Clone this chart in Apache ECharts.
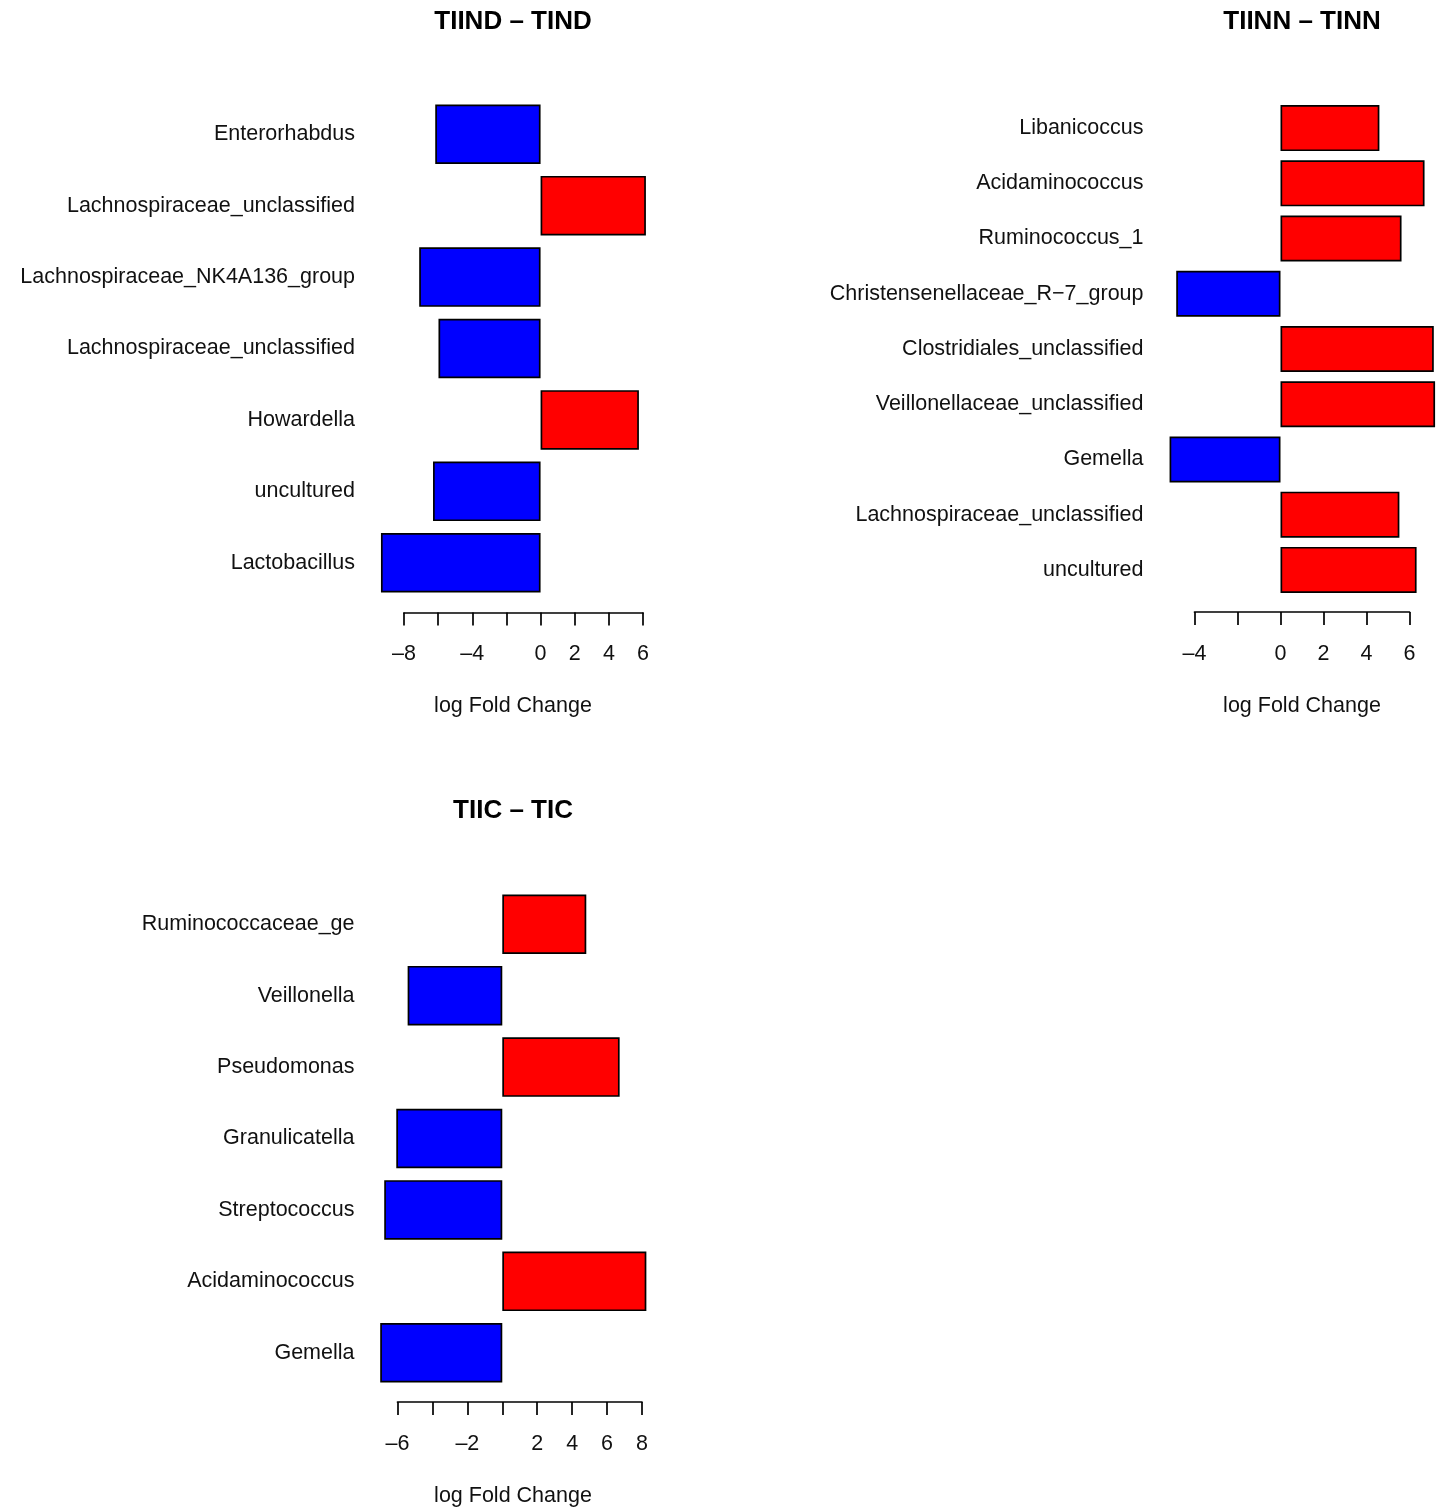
<!DOCTYPE html>
<html>
<head>
<meta charset="utf-8">
<title>log Fold Change</title>
<script src="https://cdn.jsdelivr.net/npm/echarts@6/dist/echarts.min.js"></script>
<style>
  html, body { margin: 0; padding: 0; background: #ffffff; }
  #chart { width: 1445px; height: 1508px; }
</style>
</head>
<body>
<div id="chart"></div>
<script>
// TIIND – TIND
const taxaTIIND = ['Enterorhabdus', 'Lachnospiraceae_unclassified', 'Lachnospiraceae_NK4A136_group',
  'Lachnospiraceae_unclassified', 'Howardella', 'uncultured', 'Lactobacillus'];
const lfcTIIND = [-6.17, 6.17, -7.11, -5.98, 5.76, -6.30, -9.35];
const ticksTIIND = [-8, -6, -4, -2, 0, 2, 4, 6];
const labelledTIIND = [-8, -4, 0, 2, 4, 6];

// TIINN – TINN
const taxaTIINN = ['Libanicoccus', 'Acidaminococcus', 'Ruminococcus_1', 'Christensenellaceae_R\u22127_group',
  'Clostridiales_unclassified', 'Veillonellaceae_unclassified', 'Gemella',
  'Lachnospiraceae_unclassified', 'uncultured'];
const lfcTIINN = [4.60, 6.70, 5.63, -4.85, 7.13, 7.19, -5.16, 5.53, 6.33];
const ticksTIINN = [-4, -2, 0, 2, 4, 6];
const labelledTIINN = [-4, 0, 2, 4, 6];

// TIIC – TIC
const taxaTIIC = ['Ruminococcaceae_ge', 'Veillonella', 'Pseudomonas', 'Granulicatella',
  'Streptococcus', 'Acidaminococcus', 'Gemella'];
const lfcTIIC = [4.81, -5.42, 6.72, -6.07, -6.76, 8.25, -6.99];
const ticksTIIC = [-6, -4, -2, 0, 2, 4, 6, 8];
const labelledTIIC = [-6, -2, 2, 4, 6, 8];

const panelTitles = ['TIIND \u2013 TIND', 'TIINN \u2013 TINN', 'TIIC \u2013 TIC'];
const axisTitle = 'log Fold Change';

const UP = '#ff0000';
const DOWN = '#0000ff';
const FONT = '"Liberation Sans", Arial, Helvetica, sans-serif';
const TEXT_SIZE = 21.5;

const panels = [
  { taxa: taxaTIIND, values: lfcTIIND, ticks: ticksTIIND, labelled: labelledTIIND,
    grid: { left: 404, width: 239, top: 98.5, height: 500 }, offset: 14, nameMargin: 49,
    titleX: 513, titleY: 9, axisTitleY: 695 },
  { taxa: taxaTIINN, values: lfcTIINN, ticks: ticksTIINN, labelled: labelledTIINN,
    grid: { left: 1194.5, width: 215, top: 100.5, height: 497 }, offset: 14.5, nameMargin: 51,
    titleX: 1302, titleY: 9, axisTitleY: 695 },
  { taxa: taxaTIIC, values: lfcTIIC, ticks: ticksTIIC, labelled: labelledTIIC,
    grid: { left: 397.5, width: 244.5, top: 888.5, height: 500 }, offset: 13.5, nameMargin: 43,
    titleX: 513, titleY: 798, axisTitleY: 1485 }
];

const fmtNum = v => (v < 0 ? '\u2013' + Math.abs(v) : String(v));

const option = {
  backgroundColor: '#ffffff',
  animation: false,
  textStyle: { fontFamily: FONT },
  title: [],
  grid: [],
  xAxis: [],
  yAxis: [],
  series: []
};

panels.forEach((p, i) => {
  option.title.push({
    text: panelTitles[i], padding: 0,
    left: p.titleX, top: p.titleY, textAlign: 'center',
    textStyle: { fontFamily: FONT, fontSize: 26, fontWeight: 'bold', color: '#000' }
  });
  option.title.push({
    text: axisTitle, padding: 0,
    left: p.titleX, top: p.axisTitleY, textAlign: 'center',
    textStyle: { fontFamily: FONT, fontSize: TEXT_SIZE, fontWeight: 'normal', color: '#111' }
  });

  option.grid.push(Object.assign({ containLabel: false }, p.grid));

  option.xAxis.push({
    type: 'value', gridIndex: i,
    min: p.ticks[0], max: p.ticks[p.ticks.length - 1], interval: 2,
    offset: p.offset,
    axisLine: { show: true, lineStyle: { color: '#000', width: 1.7 } },
    axisTick: { show: true, length: 13, lineStyle: { color: '#000', width: 1.7 } },
    splitLine: { show: false },
    axisLabel: {
      margin: 31, fontSize: TEXT_SIZE, color: '#111', fontFamily: FONT,
      formatter: v => (p.labelled.indexOf(v) >= 0 ? fmtNum(v) : '')
    }
  });

  option.yAxis.push({
    type: 'category', gridIndex: i, inverse: true, data: p.taxa,
    axisLine: { show: false }, axisTick: { show: false }, splitLine: { show: false },
    axisLabel: { margin: p.nameMargin, fontSize: TEXT_SIZE, color: '#111', fontFamily: FONT,
      padding: [4, 0, 0, 0] }
  });

  option.series.push({
    type: 'bar', xAxisIndex: i, yAxisIndex: i,
    barWidth: '83.33%', clip: false,
    data: p.values.map(v => ({
      value: v,
      itemStyle: { color: v > 0 ? UP : DOWN, borderColor: '#000', borderWidth: 1.7 }
    }))
  });
});

const chart = echarts.init(document.getElementById('chart'), null, { renderer: 'canvas' });
chart.setOption(option);
</script>
</body>
</html>
